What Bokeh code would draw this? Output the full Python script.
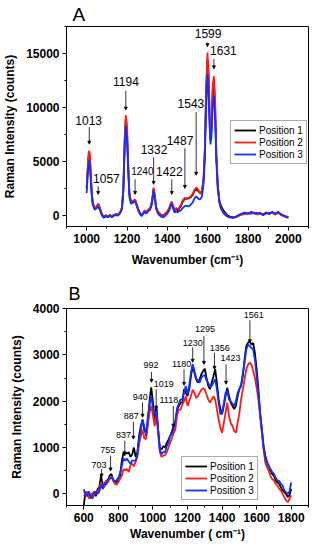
from bokeh.plotting import figure
from bokeh.layouts import column
from bokeh.core.properties import value
from bokeh.models import (ColumnDataSource, SingleIntervalTicker, Range1d, Legend,
                          LegendItem, Arrow, NormalHead, LabelSet, Title)
from bokeh.embed import file_html
from bokeh.resources import INLINE

FONT = "Liberation Sans"
SERIES = ["Position 1", "Position 2", "Position 3"]
COLORS = ["#000000", "#ff1a1a", "#1030ff"]

# ---------------- Panel A data ----------------
wn_a = [1000, 1005, 1010, 1013, 1016, 1020, 1025, 1030, 1040, 1050,
        1057, 1065, 1075, 1085, 1095, 1105, 1115, 1125, 1135, 1145,
        1155, 1165, 1175, 1182, 1188, 1194, 1200, 1206, 1212, 1220,
        1230, 1240, 1248, 1256, 1264, 1272, 1280, 1288, 1296, 1304,
        1312, 1320, 1326, 1332, 1338, 1344, 1352, 1360, 1370, 1380,
        1390, 1400, 1410, 1416, 1422, 1428, 1436, 1444, 1452, 1460,
        1468, 1476, 1487, 1495, 1505, 1515, 1525, 1535, 1543, 1550,
        1557, 1565, 1572, 1580, 1586, 1592, 1599, 1604, 1609, 1614,
        1619, 1625, 1631, 1637, 1643, 1650, 1658, 1666, 1675, 1685,
        1695, 1705, 1715, 1725, 1740, 1755, 1770, 1785, 1800, 1815,
        1830, 1845, 1860, 1875, 1890, 1905, 1920, 1935, 1950, 1965,
        1980, 1990, 2000]
a_pos1 = [2500, 4200, 5500, 5700, 5300, 3800, 2200, 1200, 650, 850,
          1100, 700, 150, -150, 50, -100, 50, -50, 50, 150,
          100, 250, 700, 2500, 6500, 9000, 7800, 4500, 2000, 1200,
          1300, 1450, 1000, 550, 250, 50, 200, 450, 250, 500,
          600, 900, 1600, 2500, 1800, 800, 400, 200, 50, 0,
          150, 350, 700, 1000, 1250, 900, 500, 650, 500, 700,
          900, 1300, 1600, 1550, 1600, 1700, 1900, 2300, 2400, 2350,
          2200, 2100, 2300, 3500, 6000, 11000, 14500, 13000, 9500, 7000,
          8000, 11500, 12500, 10000, 5500, 2800, 1400, 900, 600, 300,
          100, -50, -100, -150, -100, 50, 150, 250, 200, 300,
          250, 150, 250, 100, 300, 150, 300, 150, 300, 100,
          0, -100, -150]
a_pos2 = [2700, 4500, 5900, 6000, 5600, 4000, 2300, 1200, 650, 850,
          1100, 750, 150, -100, 0, -50, 100, -100, 50, 100,
          150, 300, 800, 2700, 7000, 9300, 8200, 4800, 2100, 1300,
          1400, 1500, 1050, 600, 250, 50, 250, 500, 300, 550,
          650, 950, 1700, 2600, 1900, 850, 450, 250, 100, 50,
          200, 400, 750, 1100, 1300, 950, 550, 700, 600, 800,
          1000, 1400, 1650, 1600, 1650, 1750, 2000, 2400, 2600, 2500,
          2300, 2000, 2200, 3500, 6200, 11500, 15100, 13500, 10000, 7000,
          8500, 12000, 12900, 10500, 5800, 2900, 1300, 700, 400, 150,
          0, -100, -150, -200, -150, 0, 100, 150, 250, 150,
          300, 100, 200, 150, 200, 250, 250, 100, 250, 150,
          -50, -150, -200]
a_pos3 = [2100, 3600, 4900, 5100, 4700, 3300, 1900, 1000, 550, 700,
          850, 550, 50, -200, -50, -150, 0, -150, 0, 50,
          0, 200, 600, 2300, 6000, 8300, 7200, 4100, 1700, 1100,
          1200, 1350, 900, 450, 150, -50, 150, 350, 200, 400,
          500, 800, 1400, 2300, 1600, 650, 250, 50, -100, -150,
          0, 200, 500, 850, 1100, 700, 300, 400, 300, 450,
          500, 700, 900, 900, 850, 1000, 1200, 1600, 1800, 1650,
          1500, 1550, 1800, 3000, 5300, 9800, 13100, 11500, 8500, 6600,
          7300, 10300, 11100, 9000, 5000, 2500, 1200, 650, 350, 100,
          -50, -150, -150, -200, -100, 50, 200, 300, 150, 350,
          200, 250, 200, 50, 250, 200, 350, 200, 350, 50,
          -50, -100, -100]

# peak annotations for panel A
peaks_a = [1013, 1057, 1194, 1240, 1332, 1422, 1487, 1543, 1599, 1631]
peaks_a_text_x = [1010, 1098, 1195, 1276, 1334, 1410, 1463, 1517, 1602, 1678]
peaks_a_text_y = [8850, 3458, 12383, 4109, 6154, 4109, 7001, 10338, 16845, 15264]
peaks_a_arrow_top = [8199, 2714, 11546, 3365, 5411, 3365, 6247, 9594, 16008, 14521]
peaks_a_arrow_end = [6619, 1971, 9780, 1971, 2900, 1971, 2528, 3737, 15637, 13591]
peaks_a_font = ["12px", "12px", "12px", "10px", "12px", "12px", "12px", "12px", "12px", "12px"]

# ---------------- Panel B data ----------------
wn_b = list(range(600, 1801, 10))
b_pos1 = [-250, 50, -50, 0, -100, 0, 50, -50, 100, 150,
          400, 150, 200, 250, 300, 400, 430, 300, 270, 250,
          350, 400, 700, 900, 900, 870, 900, 800, 850, 1000,
          800, 900, 1250, 1460, 1600, 1390, 1320, 1530, 1980, 2300,
          1980, 1600, 1900, 1390, 1000, 960, 1030, 1000, 1100, 1170,
          1250, 1350, 1460, 1530, 1820, 1900, 1970, 1970, 2260, 2180,
          2110, 2260, 2540, 2760, 2620, 2470, 2400, 2470, 2580, 2650,
          2700, 2500, 2330, 2260, 2400, 2540, 2690, 2400, 2040, 1830,
          1720, 1900, 2110, 2290, 2110, 1970, 1900, 1830, 1900, 2110,
          2260, 2330, 2540, 2900, 3190, 3260, 3290, 3220, 3260, 3040,
          2690, 2260, 1750, 1400, 1040, 830, 680, 610, 500, 430,
          390, 290, 250, 220, 140, 75, 40, 0, -70, -30,
          110]
b_pos2 = [-50, 0, 50, -100, -50, 0, 50, 0, 50, 100,
          250, 150, 150, 300, 250, 350, 380, 280, 220, 200,
          250, 330, 390, 540, 500, 540, 470, 620, 650, 600,
          690, 800, 1070, 1250, 1390, 1200, 1180, 1450, 1750, 1900,
          1700, 1460, 1700, 1320, 900, 800, 830, 830, 900, 1000,
          1100, 1200, 1320, 1390, 1700, 1820, 1820, 1930, 2000, 2110,
          1900, 2000, 2110, 2250, 2180, 2070, 2110, 2180, 2250, 2280,
          2250, 2150, 2040, 1970, 2040, 2110, 2040, 1830, 1610, 1430,
          1320, 1530, 1750, 1970, 1680, 1530, 1460, 1360, 1320, 1530,
          1750, 2040, 2250, 2470, 2690, 2790, 2830, 2790, 2650, 2500,
          2290, 2040, 1680, 1320, 970, 680, 570, 500, 390, 320,
          290, 220, 180, 110, 75, 0, -70, -140, -180, -110,
          -30]
b_pos3 = [100, -50, 0, 50, -50, -100, 0, 50, 0, 50,
          200, 100, 250, 200, 300, 330, 350, 320, 250, 300,
          330, 450, 600, 760, 720, 760, 700, 650, 720, 720,
          720, 850, 1180, 1390, 1600, 1450, 1250, 1650, 1900, 2130,
          1850, 1700, 1790, 1390, 950, 860, 900, 900, 1030, 1100,
          1250, 1300, 1390, 1600, 1850, 1950, 2040, 2040, 2180, 2330,
          2150, 2330, 2620, 2800, 2650, 2500, 2430, 2400, 2500, 2550,
          2560, 2450, 2400, 2300, 2330, 2400, 2470, 2260, 1970, 1720,
          1750, 1950, 2180, 2220, 2040, 2000, 1950, 1900, 2000, 2180,
          2260, 2350, 2600, 2830, 3110, 3220, 3190, 3150, 3110, 2900,
          2540, 2180, 1750, 1380, 1000, 760, 680, 580, 540, 470,
          430, 350, 290, 280, 220, 180, 75, 40, 0, 50,
          250]

peaks_b = [703, 755, 837, 887, 940, 992, 1019, 1118, 1180, 1230, 1295, 1356, 1423, 1561]
peaks_b_text_x = [688, 739, 830, 875, 927, 989, 1063, 1092, 1166, 1231, 1301, 1386, 1449, 1583]
peaks_b_text_y = [630, 953, 1269, 1684, 2092, 2774, 2381, 2022, 2796, 3262, 3548, 3155, 2940, 3849]
peaks_b_arrow_top = [538, 824, 1146, 1555, 1978, 2630, 2258, 1899, 2688, 3161, 3404, 3047, 2796, 3748]
peaks_b_arrow_end = [366, 495, 824, 1183, 1656, 2409, 1828, 1441, 2344, 2839, 2796, 2688, 2366, 3262]

for arr in (a_pos1, a_pos2, a_pos3):
    assert len(arr) == len(wn_a), len(arr)
for arr in (b_pos1, b_pos2, b_pos3):
    assert len(arr) == len(wn_b), len(arr)


def style_axes(p, xint, yint):
    p.xaxis.ticker = SingleIntervalTicker(interval=xint, num_minor_ticks=2)
    p.yaxis.ticker = SingleIntervalTicker(interval=yint, num_minor_ticks=2)
    for ax in (p.xaxis[0], p.yaxis[0]):
        ax.axis_label_text_font = FONT
        ax.axis_label_text_font_style = "bold"
        ax.axis_label_text_font_size = "12px"
        ax.axis_label_text_color = "#000000"
        ax.axis_label_text_line_height = 1.0
        ax.major_label_text_font = FONT
        ax.major_label_text_font_style = "bold"
        ax.major_label_text_font_size = "12px"
        ax.major_label_text_color = "#000000"
        ax.major_label_text_line_height = 1.0
        ax.major_tick_in = 0
        ax.major_tick_out = 4
        ax.minor_tick_in = 0
        ax.minor_tick_out = 2
        ax.axis_line_color = "#000000"
        ax.major_tick_line_color = "#000000"
        ax.minor_tick_line_color = "#000000"
        ax.major_label_standoff = 3
        ax.axis_label_standoff = 3
    p.yaxis.axis_label_standoff = 6
    p.xgrid.visible = False
    p.ygrid.visible = False
    p.outline_line_color = "#000000"
    p.outline_line_width = 1


def add_spectra(p, wn, series, legend_loc):
    renderers = []
    for ys, c in zip(series, COLORS):
        src = ColumnDataSource(dict(x=wn, y=ys))
        r = p.line("x", "y", source=src, line_color=c, line_width=1.8)
        renderers.append(r)
    items = [LegendItem(label=s, renderers=[r]) for s, r in zip(SERIES, renderers)]
    leg = Legend(items=items, location=legend_loc, margin=0, padding=3, spacing=0,
                 glyph_height=12, glyph_width=22, label_standoff=3, label_height=12,
                 label_text_font=FONT, label_text_font_size="10px",
                 label_text_color="#000000", border_line_color="#555555",
                 border_line_width=1, background_fill_alpha=1)
    p.add_layout(leg)


def add_peaks(p, peaks, tx, ty, atop, aend, fonts, head):
    src = ColumnDataSource(dict(x=tx, y=ty, t=[str(v) for v in peaks], f=fonts))
    p.add_layout(LabelSet(x="x", y="y", text="t", source=src, text_align="center",
                          text_baseline="middle", text_font=value(FONT), text_font_size="f",
                          text_color="#000000"))
    asrc = ColumnDataSource(dict(x0=peaks, y0=atop, x1=peaks, y1=aend))
    p.add_layout(Arrow(x_start="x0", y_start="y0", x_end="x1", y_end="y1", source=asrc,
                       line_color="#000000", line_width=0.8,
                       end=NormalHead(size=head, fill_color="#000000", line_color="#000000",
                                      line_width=0.8)))


def add_title(p, text, size, offset, standoff):
    t = Title(text=text, text_font=FONT, text_font_size=size, text_font_style="normal",
              text_color="#000000", align="left", offset=offset, standoff=standoff,
              text_line_height=1.0)
    p.add_layout(t, "above")


# ---------------- Figure A ----------------
pa = figure(width=309, height=271, x_range=Range1d(900, 2100), y_range=Range1d(-1000, 17500),
            output_backend="svg", toolbar_location=None,
            min_border_left=60, min_border_right=1, min_border_top=23, min_border_bottom=45)
style_axes(pa, 200, 5000)
pa.xaxis.axis_label = "Wavenumber (cm\u207b\u00b9)"
pa.yaxis.axis_label = "Raman Intensity (counts)"
pa.xaxis.axis_label_standoff = 7
add_spectra(pa, wn_a, [a_pos1, a_pos2, a_pos3], (164, 62))
add_peaks(pa, peaks_a, peaks_a_text_x, peaks_a_text_y, peaks_a_arrow_top, peaks_a_arrow_end,
          peaks_a_font, 3)
add_title(pa, "A", "19px", 6, 3)

# ---------------- Figure B ----------------
pb = figure(width=309, height=272, x_range=Range1d(500, 1900), y_range=Range1d(-250, 4000),
            output_backend="svg", toolbar_location=None,
            min_border_left=60, min_border_right=1, min_border_top=37, min_border_bottom=33)
style_axes(pb, 200, 1000)
pb.xaxis.axis_label = "Wavenumber ( cm\u207b\u00b9)"
pb.yaxis.axis_label = "Raman Intensity (counts)"
pb.xaxis.axis_label_standoff = 2
add_spectra(pb, wn_b, [b_pos1, b_pos2, b_pos3], (115, 5))
add_peaks(pb, peaks_b, peaks_b_text_x, peaks_b_text_y, peaks_b_arrow_top, peaks_b_arrow_end,
          ["9px"] * len(peaks_b), 3)
add_title(pb, "B", "18px", 2, 9)

layout = column(pa, pb)
open("out.html", "w").write(file_html(layout, INLINE))
